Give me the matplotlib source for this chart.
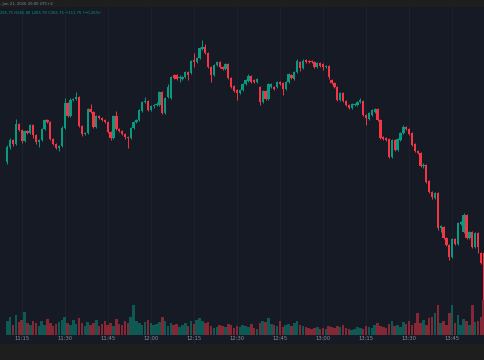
import matplotlib
matplotlib.use("Agg")
import matplotlib.pyplot as plt
import numpy as np

# ---------------- data (1-minute candles, price in chart units) ----------------
opens = [198,213,220,216,236,230,219,229,227,235,225,218,220,231,240,238,221,216,212,214,
         232,257,244,260,261,263,234,226,227,251,248,233,244,242,240,238,228,222,244,231,
         229,226,223,222,232,238,240,249,258,259,250,254,255,255,268,247,263,262,285,285,
         282,281,283,288,287,300,298,302,311,313,307,293,285,295,298,293,291,296,282,274,
         270,267,270,276,279,284,280,278,273,258,269,261,273,273,273,278,277,271,278,285,
         281,288,298,292,300,299,299,298,293,297,296,293,294,280,277,273,260,267,259,255,
         252,255,255,258,259,245,241,245,248,251,240,223,222,221,203,220,210,220,227,233,
         231,227,216,209,207,194,195,179,168,162,167,132,133,122,115,103,121,116,136,128,
         145,122,128,113,127,107,107]
highs = [215,222,221,241,237,231,230,230,236,236,226,221,232,241,241,239,222,217,215,234,
         262,258,262,262,268,264,235,228,252,256,249,245,245,243,241,239,229,245,249,232,
         230,227,224,233,239,241,251,259,263,260,255,256,258,269,269,263,276,284,286,286,
         285,284,289,289,300,307,303,313,320,316,308,294,296,299,299,294,297,297,283,275,
         271,271,277,281,286,285,281,282,274,270,270,277,277,274,279,279,278,279,287,286,
         289,301,299,301,301,300,300,299,298,298,297,295,295,281,278,274,268,268,260,256,
         257,257,259,262,260,246,248,251,252,252,241,224,223,222,221,221,222,228,235,234,
         232,228,217,210,208,197,196,180,169,168,168,135,134,123,116,122,122,138,139,147,
         146,129,129,128,128,108,108]
lows = [196,211,214,215,229,217,218,226,226,222,216,213,219,230,237,220,215,211,209,213,
        231,243,243,259,260,233,224,225,226,247,232,232,241,239,237,227,220,221,230,228,
        225,221,212,221,231,237,239,248,257,249,249,252,254,254,246,246,262,261,281,280,
        278,280,282,280,286,293,297,301,310,306,292,278,284,294,292,290,290,281,272,268,
        260,266,269,275,278,277,277,277,255,257,260,260,272,270,272,275,265,270,277,281,
        280,287,289,291,297,297,297,292,292,293,290,292,281,276,272,259,259,258,254,251,
        251,254,254,257,244,235,240,244,247,239,221,220,219,202,202,209,209,219,226,230,
        225,214,208,206,193,192,177,167,161,161,130,128,121,114,100,102,115,115,135,127,
        121,121,112,112,107,96,58]
closes = [213,220,216,236,230,219,229,227,235,225,218,220,231,240,238,221,216,212,214,232,
          257,244,260,261,263,234,226,227,251,248,233,244,242,240,238,228,222,244,231,229,
          226,223,222,232,238,240,250,258,259,250,254,255,256,268,247,262,273,283,282,281,
          283,283,288,285,299,298,302,312,313,307,293,285,295,298,293,291,296,282,273,269,
          267,270,276,280,284,278,278,281,258,269,261,276,276,271,278,276,271,278,286,282,
          288,299,292,299,298,298,298,293,297,294,293,294,283,277,273,260,267,259,255,252,
          256,256,258,260,245,242,247,250,251,240,222,221,220,203,220,210,221,227,233,231,
          226,215,209,207,194,195,178,168,163,167,132,134,122,115,103,121,116,137,138,145,
          122,128,113,127,113,97,60]
volumes = [14,18,10,20,13,15,23,12,10,14, 12,9,14,10,16,12,9,11,13,15,
           18,12,10,15,11,17,12,9,13,10, 12,15,9,11,14,10,12,9,16,11,
           10,14,12,18,30,14,12,10,13,15, 12,10,11,13,18,14,9,12,10,11,
           8,10,12,9,14,11,15,17,14,12, 13,9,7,8,10,9,8,11,10,7,
           9,8,10,9,8,11,7,6,12,14, 13,17,11,10,9,14,8,10,11,9,
           12,14,10,9,8,7,6,7,8,6, 7,6,9,8,7,9,8,10,7,6,
           5,6,8,7,6,9,8,7,10,12, 9,8,7,11,14,9,10,8,13,11,
           14,10,12,22,12,15,10,17,18,22, 30,12,14,10,22,30,12,20,10,16,
           14,10,30,13,14,18,35]
tick_idx = [5, 20, 35, 50, 65, 80, 95, 110, 125, 140, 155]
tick_labels = ["11:15", "11:30", "11:45", "12:00", "12:15", "12:30",
               "12:45", "13:00", "13:15", "13:30", "13:45"]
header1 = ", Jun 21, 2016 20:00 UTC+2"
header2 = "265.75 H265.80 L265.70 C265.75 \u2212111.75 (\u22120.26%)"

# ---------------- styling ----------------
UP = "#089981"
DN = "#f23645"
BG = "#161a25"
OUTER = "#1e1e1e"
GRID = "#1f2330"

W, H = 485, 360
fig = plt.figure(figsize=(W / 100, H / 100), dpi=100, facecolor=OUTER)

top_px, bot_px = 7, 344
rect = [0, (H - bot_px) / H, 1, (bot_px - top_px) / H]
ax = fig.add_axes(rect, facecolor=BG)
axv = fig.add_axes(rect, facecolor="none", sharex=ax)

x0, step = 7.3, 2.87
ax.set_xlim(-x0 / step, (W - x0) / step)
ax.set_ylim(H - bot_px, H - top_px)
axv.set_ylim(-(bot_px - 335), 335 - top_px)

n = len(closes)
xs = np.arange(n)
up = [c >= o for o, c in zip(opens, closes)]
cols = [UP if u else DN for u in up]
vcols = [(8/255, 153/255, 129/255, 0.5) if u else (242/255, 54/255, 69/255, 0.5) for u in up]

# volume
axv.bar(xs, volumes, width=0.88, color=vcols, linewidth=0, zorder=1)

# candles
ax.vlines(xs, lows, highs, colors=cols, linewidth=0.7, zorder=2)
bottoms = [min(o, c) for o, c in zip(opens, closes)]
heights = [max(abs(c - o), 0.8) for o, c in zip(opens, closes)]
ax.bar(xs, heights, bottom=bottoms, width=0.8, color=cols, linewidth=0, zorder=3)

# axes styling
for a in (ax, axv):
    for s in a.spines.values():
        s.set_visible(False)
axv.set_yticks([])
axv.tick_params(axis="x", length=0, labelbottom=False)
ax.set_yticks([])
ax.set_xticks(tick_idx)
ax.set_xticklabels(tick_labels)
ax.tick_params(axis="x", length=0, pad=-5.5, labelsize=3.8, labelcolor="#8a8e99")
ax.grid(axis="x", color=GRID, linewidth=0.6)
ax.set_axisbelow(True)

# header
fig.text(0 / W, 1 - 4 / H, header1, fontsize=2.7, color="#8a8e99", va="center", ha="left")
fig.text(0 / W, 1 - 12.5 / H, header2, fontsize=2.7, color=UP, va="center", ha="left")

fig.savefig("out.png", dpi=100, facecolor=OUTER)
